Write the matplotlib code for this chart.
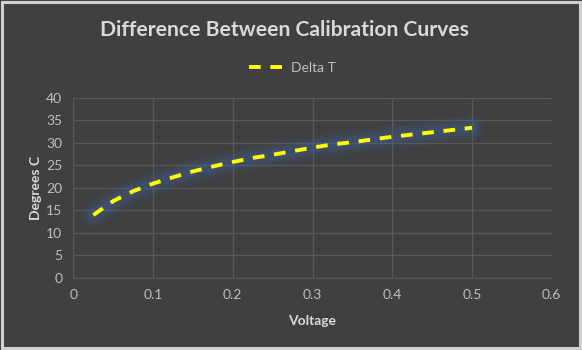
import matplotlib.pyplot as plt
from matplotlib.patches import Rectangle

voltage = [0.025, 0.05, 0.075, 0.1, 0.125, 0.15, 0.175, 0.2, 0.225, 0.25,
           0.275, 0.3, 0.325, 0.35, 0.375, 0.4, 0.425, 0.45, 0.475, 0.5]
delta_t = [13.9, 17.0, 19.2, 20.9, 22.3, 23.6, 24.7, 25.7, 26.6, 27.3,
           28.1, 28.9, 29.6, 30.1, 30.7, 31.3, 31.8, 32.3, 32.8, 33.3]

x_ticks = [0, 0.1, 0.2, 0.3, 0.4, 0.5, 0.6]
x_labels = ['0', '0.1', '0.2', '0.3', '0.4', '0.5', '0.6']
y_ticks = [0, 5, 10, 15, 20, 25, 30, 35, 40]

bg = '#404040'
grid_c = '#595959'
txt = '#bfbfbf'
font = 'Lato'

fig = plt.figure(figsize=(5.82, 3.5), dpi=100)
fig.patch.set_facecolor(bg)
# light frame round the chart
fig.patches.append(Rectangle((1.5 / 582, 2 / 350), 578 / 582, 346 / 350,
                             transform=fig.transFigure, facecolor='none',
                             edgecolor='#d0d0d0', linewidth=2.2, zorder=10))

ax = fig.add_axes([0.126, 0.207, 0.822, 0.514])
ax.set_facecolor(bg)

# soft blue glow under the line
for lw, a in [(18, 0.06), (15, 0.08), (12, 0.10), (9, 0.12), (6, 0.14)]:
    ax.plot(voltage, delta_t, color='#3f64a8', linewidth=lw, alpha=a,
            solid_capstyle='round', solid_joinstyle='round', zorder=2)
ax.plot(voltage, delta_t, color='#ffff00', linewidth=2.8, linestyle=(0, (3, 2.5)),
        label='Delta T', zorder=3)

ax.set_xlim(0, 0.6)
ax.set_ylim(0, 40)
ax.set_xticks(x_ticks)
ax.set_xticklabels(x_labels)
ax.set_yticks(y_ticks)
ax.grid(True, color=grid_c, linewidth=1)
ax.set_axisbelow(True)
for s in ['top', 'right']:
    ax.spines[s].set_visible(False)
for s in ['left', 'bottom']:
    ax.spines[s].set_color(grid_c)
ax.tick_params(length=0, colors=txt, labelsize=10, pad=8)
for lab in ax.get_xticklabels() + ax.get_yticklabels():
    lab.set_fontfamily(font)

ax.set_xlabel('Voltage', color='#d9d9d9', fontsize=10, fontweight='bold',
              fontfamily=font, labelpad=10)
ax.set_ylabel('Degrees C', color='#d9d9d9', fontsize=10, fontweight='bold',
              fontfamily=font, labelpad=3)

fig.text(0.488, 0.915, 'Difference Between Calibration Curves', ha='center',
         va='center', color='#d9d9d9', fontsize=15.2, fontweight='bold',
         fontfamily=font)

leg = fig.legend(loc='center', bbox_to_anchor=(0.502, 0.805), frameon=False,
                 prop={'family': font, 'size': 10}, handlelength=2.4,
                 handletextpad=0.6)
for t in leg.get_texts():
    t.set_color(txt)

fig.savefig('out.png', dpi=100, facecolor=fig.get_facecolor())
